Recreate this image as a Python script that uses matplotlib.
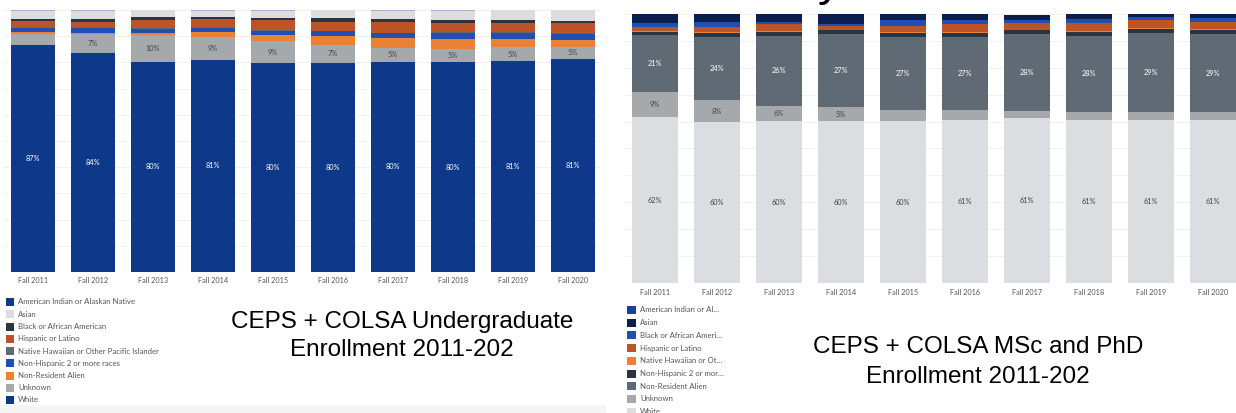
import matplotlib.pyplot as plt
from matplotlib.patches import Rectangle

years = ['Fall 2011', 'Fall 2012', 'Fall 2013', 'Fall 2014', 'Fall 2015',
         'Fall 2016', 'Fall 2017', 'Fall 2018', 'Fall 2019', 'Fall 2020']

# legend order (alphabetical, as in the Tableau legend)
groups = ['American Indian or Alaskan Native', 'Asian', 'Black or African American',
          'Hispanic or Latino', 'Native Hawaiian or Other Pacific Islander',
          'Non-Hispanic 2 or more races', 'Non-Resident Alien', 'Unknown', 'White']

# undergraduate shares (%)
ug_amind = [0.4, 0.4, 0.4, 0.4, 0.4, 0.4, 0.4, 0.4, 0.4, 0.4]
ug_asian = [3.2, 3.2, 2.8, 2.3, 2.8, 3.2, 3.4, 3.8, 3.8, 4.2]
ug_black = [0.6, 1.1, 0.9, 0.9, 1.0, 1.3, 1.0, 0.8, 0.9, 0.8]
ug_hisp = [2.3, 2.0, 3.2, 3.1, 3.7, 3.4, 4.1, 3.6, 3.7, 3.7]
ug_nhpi = [0.2, 0.2, 0.2, 0.2, 0.2, 0.2, 0.2, 0.2, 0.2, 0.2]
ug_multi = [1.7, 1.8, 1.7, 1.7, 1.5, 1.9, 1.8, 2.4, 2.2, 2.5]
ug_nra = [0.6, 0.6, 0.8, 1.9, 2.3, 3.2, 3.7, 3.9, 3.4, 2.5]
ug_unknown = [4.4, 7.1, 10.2, 8.6, 8.7, 7.1, 5.3, 5.1, 5.1, 4.8]
ug_white = [86.6, 83.7, 80.2, 81.0, 79.6, 79.7, 80.3, 80.0, 80.6, 81.2]

# graduate (MSc and PhD) shares (%)
gr_amind = [0.3, 0.3, 0.3, 0.3, 0.3, 0.3, 0.3, 0.3, 0.3, 0.3]
gr_asian = [3.6, 2.8, 3.1, 3.6, 2.4, 2.4, 1.8, 1.9, 1.4, 1.5]
gr_black = [1.5, 2.2, 0.9, 0.7, 2.2, 1.5, 1.1, 1.7, 1.2, 1.6]
gr_hisp = [1.5, 1.7, 2.6, 1.5, 2.2, 3.0, 2.5, 3.0, 2.9, 2.6]
gr_nhpi = [0.2, 0.2, 0.2, 0.2, 0.2, 0.2, 0.2, 0.2, 0.2, 0.2]
gr_multi = [1.2, 1.6, 1.5, 1.6, 1.5, 1.5, 1.5, 1.4, 1.7, 1.5]
gr_nra = [21.3, 23.6, 25.9, 27.1, 27.4, 27.3, 28.4, 28.4, 29.4, 29.2]
gr_unknown = [9.3, 8.2, 5.8, 5.2, 4.1, 3.6, 2.7, 2.9, 2.9, 2.7]
gr_white = [61.6, 59.7, 60.1, 60.1, 60.1, 60.7, 61.3, 60.6, 60.6, 60.7]

ug_series = [ug_amind, ug_asian, ug_black, ug_hisp, ug_nhpi, ug_multi, ug_nra, ug_unknown, ug_white]
gr_series = [gr_amind, gr_asian, gr_black, gr_hisp, gr_nhpi, gr_multi, gr_nra, gr_unknown, gr_white]

ug_colors = ['#0f3a8c', '#dcdde0', '#2b3440', '#bd5427', '#5f6a74',
             '#1f4fb5', '#ea8134', '#a5a9ab', '#0e388a']
gr_colors = ['#1a409a', '#0b1f4f', '#1f4fb5', '#bd5427', '#ea8134',
             '#2b3440', '#5f6a74', '#a5a9ab', '#dcdde0']

gr_legend = ['American Indian or Al\u2026', 'Asian', 'Black or African Ameri\u2026',
             'Hispanic or Latino', 'Native Hawaiian or Ot\u2026', 'Non-Hispanic 2 or mor\u2026',
             'Non-Resident Alien', 'Unknown', 'White']

W, H = 1236, 413
FONT = ['Lato', 'DejaVu Sans']
TITLE_FONT = ['Liberation Sans', 'DejaVu Sans']

fig = plt.figure(figsize=(W / 100, H / 100), dpi=100)
fig.patch.set_facecolor('white')

# overlay axes in pixel coordinates for legends / titles
bg = fig.add_axes([0, 0, 1, 1], zorder=0)
bg.set_xlim(0, W)
bg.set_ylim(H, 0)
bg.axis('off')
bg.add_patch(Rectangle((0, 405), 606, 8, color='#f5f5f5', lw=0))


def px_axes(x0, y0, x1, y1):
    return fig.add_axes([x0 / W, (H - y1) / H, (x1 - x0) / W, (y1 - y0) / H], zorder=2)


def draw_panel(ax, series, colors, c0, step, left, right, dark_idx, tick_pad):
    n = len(years)
    xs = list(range(n))
    ax.set_xlim((left - c0) / step, (right - c0) / step)
    ax.set_ylim(0, 100)
    ax.patch.set_alpha(0)
    for g in range(0, 101, 10):
        ax.axhline(g, color='#efefef', lw=0.6, zorder=0)
    bottoms = [0.0] * n
    # stack from the bottom: White first, American Indian on top
    for k in range(len(series) - 1, -1, -1):
        vals = series[k]
        alpha = 0.35 if k == 0 else 1.0
        ax.bar(xs, vals, width=0.73, bottom=bottoms, color=colors[k],
               alpha=alpha, linewidth=0, zorder=2)
        for i, v in enumerate(vals):
            if v >= 4.5:
                tc = 'white' if k in dark_idx else '#444444'
                ax.text(i, bottoms[i] + v / 2, f'{round(v)}%', ha='center', va='center',
                        fontsize=5.3, color=tc, family=FONT, zorder=3)
        bottoms = [b + v for b, v in zip(bottoms, vals)]
    ax.set_xticks(xs)
    ax.set_xticklabels(years, fontsize=5.3, color='#555555', family=FONT)
    ax.tick_params(axis='x', length=0, pad=tick_pad)
    ax.set_yticks([])
    for s in ax.spines.values():
        s.set_visible(False)


ax1 = px_axes(4, 10, 600, 272)
draw_panel(ax1, ug_series, ug_colors, 33, 60, 4, 600, dark_idx={8}, tick_pad=3.5)

ax2 = px_axes(625, 14, 1236, 283)
draw_panel(ax2, gr_series, gr_colors, 655, 62, 625, 1236, dark_idx={6}, tick_pad=4.5)

# legends
for i, name in enumerate(groups):
    y = 302 + 12.25 * i
    bg.add_patch(Rectangle((6, y - 4), 8, 8, color=ug_colors[i], lw=0))
    bg.text(18, y, name, fontsize=5.6, color='#555555', va='center', family=FONT)

for i, name in enumerate(gr_legend):
    y = 310 + 12.7 * i
    bg.add_patch(Rectangle((627, y - 4), 9, 8, color=gr_colors[i], lw=0))
    bg.text(640, y, name, fontsize=5.6, color='#555555', va='center', family=FONT)

# slide titles
bg.text(402, 322, 'CEPS + COLSA Undergraduate', fontsize=17.5, ha='center', va='center',
        family=TITLE_FONT, color='black')
bg.text(402, 350, 'Enrollment 2011-202', fontsize=17.5, ha='center', va='center',
        family=TITLE_FONT, color='black')
bg.text(978, 347, 'CEPS + COLSA MSc and PhD', fontsize=17.5, ha='center', va='center',
        family=TITLE_FONT, color='black')
bg.text(978, 377, 'Enrollment 2011-202', fontsize=17.5, ha='center', va='center',
        family=TITLE_FONT, color='black')

# cut-off title glyph at the top of the right slide (clipped in the source screenshot too)
bg.text(830, -5, 'y', fontsize=34, ha='center', va='baseline', family=TITLE_FONT,
        color='black', clip_on=True)

fig.savefig('out.png', dpi=100)
